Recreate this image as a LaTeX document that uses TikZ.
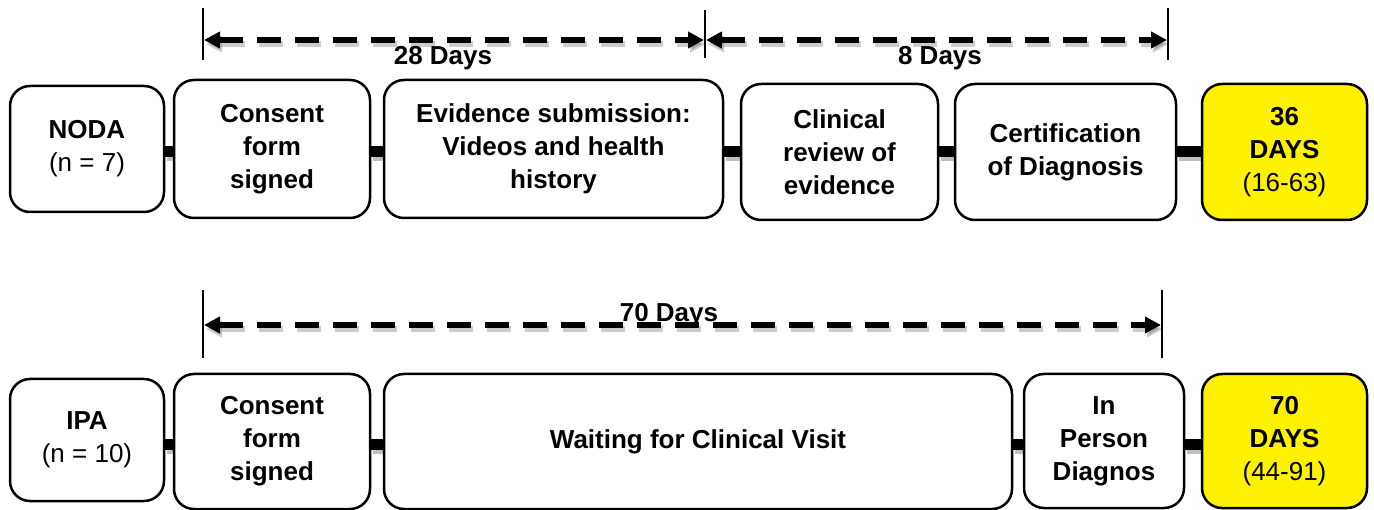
\documentclass[tikz,border=0pt]{standalone}
\usepackage{fontspec}
\setmainfont{Liberation Sans}
\usetikzlibrary{arrows.meta,backgrounds}
\begin{document}
\begin{tikzpicture}[x=1pt,y=-1pt,
 box/.style={draw, line width=2.5pt, rounded corners=20pt, fill=white, align=center, inner sep=0pt, font=\fontsize{26}{33}\selectfont\bfseries},
 yel/.style={box, fill=yellow},
 bar/.style={line width=11pt},
 barshadow/.style={line width=11pt, black, opacity=0.25, transform canvas={shift={(2,4)}}},
 tickline/.style={line width=1.5pt},
 dimline/.style={line width=6pt, dash pattern=on 24pt off 14pt, {Triangle[length=16pt,width=16pt]}-{Triangle[length=16pt,width=16pt]}},
 dimshadow/.style={dimline, black, opacity=0.2, transform canvas={shift={(2,4)}}},
 lab/.style={font=\fontsize{26}{33}\selectfont\bfseries}
]
\useasboundingbox (0,0) rectangle (1374,510);

% ---- top row ----
\node[box, minimum width=154pt, minimum height=126pt] (noda) at (87,149) {NODA\\{\mdseries (n = 7)}};
\node[box, minimum width=196pt, minimum height=138pt] (con1) at (272,149) {Consent\\form\\signed};
\node[box, minimum width=339pt, minimum height=138pt] (evid) at (553.5,149) {Evidence submission:\\Videos and health\\history};
\node[box, minimum width=197pt, minimum height=136pt] (clin) at (839.5,152) {Clinical\\review of\\evidence};
\node[box, minimum width=221pt, minimum height=136pt] (cert) at (1065.5,152) {Certification\\of Diagnosis};
\node[yel, minimum width=165pt, minimum height=136pt] (res1) at (1284.5,152) {36\\DAYS\\{\mdseries (16-63)}};

% ---- bottom row ----
\node[box, minimum width=154pt, minimum height=122pt] (ipa) at (87,440) {IPA\\{\mdseries (n = 10)}};
\node[box, minimum width=196pt, minimum height=135pt] (con2) at (272,441.5) {Consent\\form\\signed};
\node[box, minimum width=628pt, minimum height=135pt] (wait) at (698,441.5) {Waiting for Clinical Visit};
\node[box, minimum width=160pt, minimum height=134pt] (inp) at (1104,441) {In\\Person\\Diagnos};
\node[yel, minimum width=165pt, minimum height=134pt] (res2) at (1284.5,441) {70\\DAYS\\{\mdseries (44-91)}};

\coordinate (r1) at (0,152);
\coordinate (r2) at (0,445);

\begin{scope}[on background layer]
 \foreach \a/\b in {noda/con1,con1/evid,evid/clin,clin/cert,cert/res1}{
   \draw[barshadow] (\a.east |- r1) -- (\b.west |- r1);
   \draw[bar] (\a.east |- r1) -- (\b.west |- r1);
 }
 \foreach \a/\b in {ipa/con2,con2/wait,wait/inp,inp/res2}{
   \draw[barshadow] (\a.east |- r2) -- (\b.west |- r2);
   \draw[bar] (\a.east |- r2) -- (\b.west |- r2);
 }
\end{scope}

% ---- dimension lines top ----
\coordinate (t1a) at (203,8);   \coordinate (t1b) at (203,60);
\coordinate (t2a) at (705,10);  \coordinate (t2b) at (705,58);
\coordinate (t3a) at (1168,8);  \coordinate (t3b) at (1168,60);
\coordinate (d1s) at (204,40);  \coordinate (d1e) at (704,40);
\coordinate (d2s) at (706,40);  \coordinate (d2e) at (1167,40);
\draw[tickline] (t1a) -- (t1b);
\draw[tickline] (t2a) -- (t2b);
\draw[tickline] (t3a) -- (t3b);
\draw[dimshadow] (d1s) -- (d1e);
\draw[dimshadow] (d2s) -- (d2e);
\draw[dimline] (d1s) -- (d1e);
\draw[dimline] (d2s) -- (d2e);
\node[lab] (l28) at (443,58) {28 Days};
\node[lab] (l8) at (940,58) {8 Days};

% ---- dimension line bottom ----
\coordinate (t4a) at (203,290); \coordinate (t4b) at (203,358);
\coordinate (t5a) at (1162,290); \coordinate (t5b) at (1162,358);
\coordinate (d3s) at (204,325); \coordinate (d3e) at (1161,325);
\draw[tickline] (t4a) -- (t4b);
\draw[tickline] (t5a) -- (t5b);
\draw[dimshadow] (d3s) -- (d3e);
\draw[dimline] (d3s) -- (d3e);
\node[lab, anchor=base] (l70) at (669,322) {70 Days};
\end{tikzpicture}
\end{document}
